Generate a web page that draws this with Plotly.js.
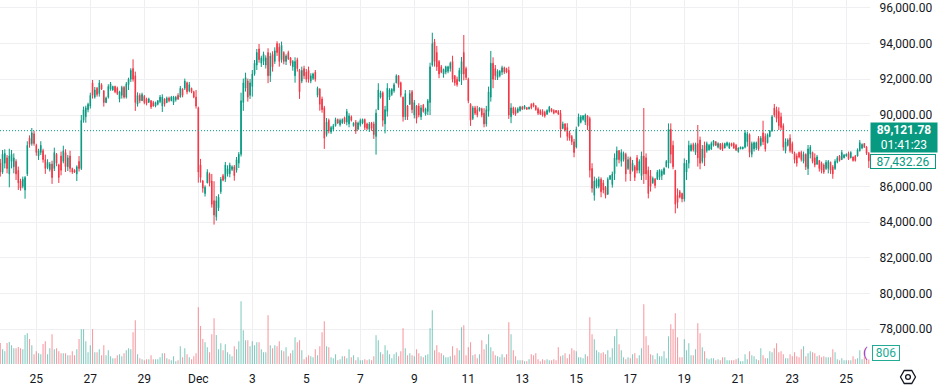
<!DOCTYPE html>
<html><head><meta charset="utf-8">
<script src="https://cdn.plot.ly/plotly-3.0.1.min.js"></script>
<style>html,body{margin:0;padding:0;background:#fff;}#chart{width:944px;height:389px;}</style>
</head><body><div id="chart"></div>
<script>
// ---- data (2h candles, BTC/USD) ----
const firstCandle = '2025-11-23T16:00:00Z';
const candleHours = 2;

const open = [
87300,86800,87300,87600,86700,87400,87100,87400,86900,86300,
86000,85800,86700,88700,88400,88950,88300,87700,87900,88000,
87500,87050,86950,87250,87000,87800,87200,87700,87400,87900,
87100,87700,87000,86900,86700,87400,87000,89700,89900,90300,
90500,91800,91000,91500,91200,91700,91350,90700,91000,91450,
91400,91600,91500,90900,91100,91550,91000,91700,92000,92600,
92200,90600,91100,90800,91050,90900,90700,90800,90700,90500,
90600,90750,90500,90900,90700,90950,90800,90700,90850,91100,
91000,91450,91500,91800,91350,91500,91300,91000,90400,87200,
86300,85600,86200,86700,86300,85200,84300,84800,85700,86600,
86400,86700,86700,86950,87100,86900,87300,87800,90700,91500,
91900,91100,91600,92300,92800,93700,92900,93000,92800,93500,
92200,93400,93000,94000,93800,93100,93500,93000,93500,93200,
92700,92200,93100,92500,91900,92600,92400,92500,91900,92050,
92400,91100,91450,90900,90400,88900,89700,89050,89200,89400,
89750,89450,89550,89850,89600,89500,89900,89400,89600,89200,
89450,89550,89750,89500,89200,89550,89500,88800,90300,91000,
91250,89500,90200,91000,91150,91350,91800,92200,91800,91000,
89900,90500,90600,91300,90000,90500,90500,89900,90550,90050,
90200,90700,92800,94100,93500,93000,92700,92300,92400,92450,
92600,93000,92200,92000,91900,92300,93500,92600,92000,90600,
89800,90400,90300,90250,90350,90100,89500,90200,91000,92900,
92600,92100,92200,92400,92650,92600,92500,89900,90400,90300,
90150,90250,90450,90350,90420,90330,90600,90650,90500,90350,
90250,90200,90150,90050,90200,90350,90250,90250,90200,90100,
89250,89500,89300,89000,88800,88500,88200,89400,89600,89750,
89600,89950,89800,87000,85500,86000,86000,86400,86200,85950,
85550,86400,86100,86700,87500,88000,87400,87500,87800,87000,
87600,86900,87100,87600,86900,86600,87700,87600,86900,86600,
86200,86400,86400,86500,86600,86700,87100,87300,89200,88300,
86900,85500,85700,85600,85300,86800,87300,88000,88350,87900,
88400,88600,87400,88300,88000,88050,88100,88300,88500,88200,
88400,88350,88150,88300,88150,88400,88400,88300,87950,88100,
88100,88200,88500,88900,87800,88100,88150,88700,88300,89000,
88800,88450,88800,89100,90400,90300,90200,89900,89400,88000,
88300,88700,88400,87850,87700,87900,87900,87400,87800,87000,
87800,87900,87600,87250,87450,87300,87200,87000,87000,87350,
87100,87000,87350,87700,87500,87600,87700,87850,87600,87650,
87700,87700,88000,88150,88400,88200,87850];

const high = [
87540,88040,88080,87760,88110,88040,87850,87520,87110,86430,
86550,86580,88530,88860,89270,89120,88390,88110,88530,88110,
87780,87520,87370,87440,88170,87870,87270,87950,88280,88080,
87760,88000,87050,86960,87180,87700,90000,90470,90520,90690,
91250,91960,91570,91570,91960,91780,91400,91030,91720,91850,
91640,91640,91590,91360,91640,91630,91850,92090,92620,93120,
92430,91270,91220,91250,91120,90970,90970,90840,90790,90750,
90840,91120,91160,90940,91030,91030,91070,91070,91070,91220,
91630,91500,92040,91870,91850,91530,91360,91400,90470,87540,
86360,86060,86960,86780,86700,86290,85460,85560,86530,86700,
87370,87180,87330,87180,87200,87650,87930,91250,92040,92370,
92040,92020,92520,93080,93700,93980,93320,93550,93340,93740,
93490,93570,93790,94130,94020,94110,93570,93400,93600,93250,
93080,93230,93210,92580,92710,92760,92580,92710,92340,92370,
92520,91590,91500,91030,90510,89830,89800,89390,89500,89850,
89800,89800,89810,89910,90340,90100,89980,89590,89720,89630,
89800,89800,89800,89570,89610,89610,89630,90320,91780,91360,
91330,90510,91780,91500,91500,91810,92280,92240,91870,91030,
91400,90560,91400,91400,90840,90560,90660,90560,90620,90410,
90900,92930,94610,94260,93870,93080,92800,92600,92760,92760,
92990,93320,92240,92150,92650,93250,94480,92710,92090,90660,
90510,90510,90510,90430,90410,90380,90510,91590,93590,93230,
92800,92560,92520,92760,92710,92650,92710,90660,90470,90430,
90430,90510,90510,90560,90430,90470,90660,90690,90560,90430,
90320,90320,90240,90320,90510,90380,90320,90280,90280,90280,
89630,89540,89540,89120,88880,88660,89350,90080,90000,90000,
90080,90000,89910,87300,86550,86450,86550,86510,86360,86020,
86510,86640,86830,87850,88230,88040,88080,87950,87890,87670,
87670,87480,87200,87760,87520,87950,90390,87850,87110,86920,
86550,86470,86920,86960,86960,87070,87480,89530,89530,88560,
86920,85890,85800,85650,87570,87480,88560,88410,88450,88450,
89440,88790,88320,88510,88510,88380,88510,88600,88540,88470,
88410,88450,88450,88510,88470,88450,88470,88380,88190,88230,
88230,89160,89070,88970,88510,88510,88510,88820,88820,89680,
88970,88970,89160,90000,90620,90470,90430,90130,89530,88690,
88690,88920,88510,87950,87850,87950,88000,87950,87850,88320,
88320,87950,87850,87760,87480,87390,87290,87480,87480,87390,
87200,87520,87700,87760,88040,87820,87850,87950,87970,87670,
87760,88130,88600,88410,88430,88260,87930];

const low = [
86550,86700,87010,86730,85950,87010,86730,86360,85800,85760,
85890,85310,86580,88170,88280,88280,87720,87480,87760,87330,
86700,86960,86830,86140,86860,87130,86190,86620,87290,86810,
86860,86790,86700,86750,86300,86830,86920,89570,89570,90150,
90360,90920,90920,91030,91030,91400,90470,90660,90920,91360,
91360,91220,91120,90710,90920,90920,90920,91400,91850,91870,
90230,90470,90660,90790,90600,90540,90690,90340,90470,90430,
90540,90660,90170,90470,90660,90710,90770,90560,90750,90840,
90990,90990,91400,91160,91270,91220,90940,90360,86210,86210,
85650,85430,86170,86000,84810,83860,84080,84620,85580,86290,
86250,86550,86510,86860,86320,86770,87030,87670,90230,91310,
90750,90900,91030,92200,92520,92930,92690,92800,92600,91780,
91850,92430,92860,93310,92710,92930,92840,92800,93080,92760,
92480,91810,92430,90900,91780,92020,91830,91810,91780,91960,
91870,90990,90240,90130,88100,88790,88970,88940,89090,89350,
89500,89350,89500,89500,89420,89310,89630,89350,88940,89160,
89350,89480,89160,89160,89050,89120,88660,87780,90280,90920,
89350,88970,89910,90840,91070,91250,91780,91530,90990,89630,
89720,89720,90560,90100,89810,89530,89870,89720,90130,89960,
90000,90000,92710,92710,92470,92060,92340,92090,92280,92340,
92430,91830,91640,91590,91870,91680,91940,91960,90660,89390,
89720,90000,89870,90190,89870,89310,89350,89910,90750,91500,
91960,91960,92110,92240,92300,92340,89780,89540,90000,89950,
90100,90190,90280,90320,90280,90320,90320,90430,90240,90000,
90000,89910,89850,90000,90130,90150,90040,90100,90000,88730,
89200,89070,88560,88560,88320,87630,88130,89350,89530,89680,
89440,89160,86500,85650,85200,85890,85890,85390,85610,85330,
85550,86360,85930,86360,87110,87290,87110,87390,86270,86920,
86300,86830,86300,86730,86730,86360,86140,86360,85330,85710,
86140,85890,86360,86360,86360,86640,87070,87010,87290,86960,
84490,84770,85330,85110,85150,86360,87010,87950,87950,87760,
87110,86960,87290,87140,87890,88000,88040,88230,88260,88130,
88040,87980,88130,88230,88100,88230,88100,87980,87890,88080,
88080,88130,88230,87630,87630,87950,88040,88000,88230,88320,
87950,88410,88750,89070,89870,89590,89160,89160,88000,87850,
88230,87890,87820,87290,87110,87570,87390,87290,86920,86640,
87570,87290,87070,87200,86830,86730,86700,86920,86730,86700,
86430,86920,87290,87390,87480,87570,87670,87480,87570,87390,
87390,87670,87950,88080,88150,87760,87030];

const close = [
86800,87800,87850,87000,87700,87800,87600,86700,86200,85900,
86400,86500,88300,88350,89000,88400,87900,88000,88300,87500,
87000,87350,87250,86500,87900,87300,86500,86900,88000,87100,
87600,87000,86800,86800,87100,87000,89700,90300,90400,90600,
91100,91100,91400,91150,91800,91450,90700,90950,91600,91750,
91600,91300,91200,91300,91550,91000,91750,92000,92500,92000,
90700,91100,90800,91150,90700,90650,90900,90450,90500,90700,
90800,91000,91000,90600,90950,90800,91000,91000,91000,90900,
91500,91100,91900,91300,91700,91300,91000,90500,86800,86500,
85900,85950,86800,86200,85000,84400,85200,85400,86400,86350,
87200,87000,87200,87100,86600,87500,87800,90800,91800,92100,
91000,91800,92300,92900,93500,93100,93200,93400,93200,92200,
93300,92700,93600,93500,93000,93900,93000,93300,93150,92900,
93000,93000,92600,91300,92500,92200,92000,92000,92200,92300,
92000,91500,90600,90300,88700,89600,89100,89300,89400,89750,
89550,89700,89750,89600,90200,89950,89700,89550,89100,89550,
89700,89750,89300,89250,89500,89250,88900,90100,91400,91250,
89700,90300,91500,91400,91450,91700,92200,91700,91100,89900,
91200,89900,91200,90300,90700,89800,90000,90400,90200,90350,
90800,92700,94000,93000,92700,92300,92400,92550,92700,92700,
92900,92000,91800,91700,92500,93000,92300,92100,90800,89700,
90400,90100,90000,90400,90000,89500,90300,91300,92900,92000,
92200,92450,92450,92650,92400,92400,90000,90400,90100,90050,
90350,90450,90320,90500,90320,90430,90400,90500,90300,90100,
90050,90000,89950,90250,90450,90200,90100,90150,90050,89200,
89500,89150,88800,88700,88500,87900,89200,89900,89900,89950,
90000,89400,86900,85900,86300,86350,86400,85700,85800,85500,
86400,86600,86700,87600,88000,87500,87900,87850,86700,87500,
86700,87300,86500,86900,87400,87700,86700,86700,85600,86000,
86450,86050,86800,86900,86850,87000,87400,89200,87800,87100,
85000,85100,85400,85300,87300,87300,88300,88300,88050,88350,
87600,87300,88100,87600,88400,88300,88400,88550,88300,88400,
88100,88100,88400,88450,88400,88280,88150,88050,88150,88200,
88200,89000,88950,87900,88400,88450,88450,88100,88700,88500,
88100,88900,89100,89900,90000,89800,89400,89300,88200,88500,
88600,88000,87900,87500,87300,87650,87500,87800,87100,88100,
88200,87400,87200,87650,87000,86900,86800,87350,87400,86900,
86700,87400,87600,87450,87900,87750,87800,87550,87900,87450,
87450,88050,88450,88350,88200,87850,87432.26];

const volume = [
3780,2640,2280,3780,3960,3360,2820,2820,3060,2820,
2640,5220,5520,4500,3360,1740,2280,1920,1740,3600,
4080,1740,2820,5340,2640,2820,2280,1920,1920,1920,
1560,1560,2280,1560,2640,4500,6240,6240,4080,2100,
3360,6240,2100,2100,2640,1560,3360,1560,2460,1380,
1020,1020,1560,1740,1380,1920,2460,2820,2640,5700,
7860,1740,1020,840,660,840,840,1560,840,840,
840,1200,1920,1920,1020,840,660,1380,480,660,
3180,1200,2820,1740,1200,840,1380,1920,10200,6840,
4500,3900,3000,2100,5340,8220,5220,2640,3720,2460,
3540,2100,1740,1380,3180,2640,4080,11280,6060,4260,
4260,3180,4080,3360,3900,3900,2640,2100,2100,8760,
3360,2820,3360,3180,4080,2460,2280,3000,1380,1920,
2460,4800,3900,4260,2460,840,1200,1560,1380,1200,
2640,1560,3180,5700,7680,3180,3000,1200,1020,1740,
660,840,1380,1380,1020,2640,1200,1560,660,1200,
660,660,840,660,840,660,1380,5160,4260,2100,
1740,3360,2460,1740,1020,1740,2100,1380,2280,6420,
2820,1560,1920,1560,1380,2640,1920,1380,1200,1560,
1740,6420,9660,2460,3360,2100,1920,1560,1200,1200,
1380,3180,1560,2820,2460,6600,6960,1560,3000,3900,
1560,1740,1020,1740,4260,2640,3540,5340,3000,2280,
1560,1380,1200,1740,1200,1740,7500,5340,2460,1380,
660,660,660,480,480,840,1740,1560,1920,840,
480,840,660,840,660,660,840,660,3000,1380,
1560,1920,1020,1740,2820,2460,2280,1200,1200,1020,
1740,1380,8400,5340,4440,2460,2100,1920,2100,1740,
2460,1200,2820,4980,6240,3540,2460,1200,840,1200,
1020,1740,1920,1020,1560,2820,10740,4980,3360,1740,
1560,840,1920,1380,1380,2280,1020,4980,7140,6240,
9120,4800,1200,1200,4440,2460,3720,1560,1560,2640,
7320,5520,3000,2280,1020,840,1020,1020,660,840,
660,1200,1200,660,660,660,660,840,1020,480,
480,1740,840,2280,1560,1380,840,660,2820,1560,
1020,1020,2280,2100,2820,3720,2100,2280,1740,1020,
1020,1740,1380,2100,1380,1200,2640,3180,1380,1920,
2280,2100,1920,1380,1560,1200,1380,1200,1200,1200,
2640,2100,840,660,1020,660,660,660,660,1380,
840,1020,2460,840,1200,840,806];

const lastPrice = 89121.78;
const countdown = '01:41:23';
const secondPrice = 87432.26;

const tickDates = ['2025-11-25','2025-11-27','2025-11-29','2025-12-01','2025-12-03','2025-12-05','2025-12-07','2025-12-09','2025-12-11','2025-12-13','2025-12-15','2025-12-17','2025-12-19','2025-12-21','2025-12-23','2025-12-25'];
const tickLabels = ['25','27','29','Dec','3','5','7','9','11','13','15','17','19','21','23','25'];
// price-scale levels; the 88,000 label sits under the price boxes in the reference
const priceTicks = [78000, 80000, 82000, 84000, 86000, 88000, 90000, 92000, 94000, 96000];
const priceTickText = ['78,000.00','80,000.00','82,000.00','84,000.00','86,000.00','','90,000.00','92,000.00','94,000.00','96,000.00'];

// ---- chart ----
const t0 = Date.parse(firstCandle);
const times = open.map((_, i) => new Date(t0 + i * candleHours * 3600000).toISOString().slice(0, 16).replace('T', ' '));
const up = '#089981', down = '#F23645';
const volColors = close.map((c, i) => c >= open[i] ? 'rgba(8,153,129,0.5)' : 'rgba(242,54,69,0.5)');
const fmt = v => v.toLocaleString('en-US', {minimumFractionDigits: 2, maximumFractionDigits: 2});

const volTrace = {
  type: 'bar', x: times, y: volume, yaxis: 'y2',
  marker: {color: volColors, line: {width: 0}},
  width: 3.4e6, hoverinfo: 'skip'
};
const candleTrace = {
  type: 'candlestick', x: times, open: open, high: high, low: low, close: close,
  increasing: {line: {color: up, width: 1}, fillcolor: up},
  decreasing: {line: {color: down, width: 1}, fillcolor: down},
  whiskerwidth: 0, hoverinfo: 'skip'
};

const grid = '#efeff1';
const layout = {
  width: 944, height: 389,
  margin: {l: 0, r: 74, t: 0, b: 25},
  paper_bgcolor: '#ffffff', plot_bgcolor: '#ffffff',
  showlegend: false,
  boxgap: 0.6,
  font: {family: 'Roboto, "Liberation Sans", sans-serif', size: 12, color: '#131722'},
  xaxis: {
    type: 'date', range: ['2025-11-23 15:44', '2025-12-25 21:04'],
    tickvals: tickDates, ticktext: tickLabels,
    showgrid: true, gridcolor: grid, gridwidth: 1,
    ticks: 'outside', ticklen: 4, tickcolor: 'rgba(0,0,0,0)',
    showline: false, zeroline: false,
    rangeslider: {visible: false}, fixedrange: true
  },
  yaxis: {
    side: 'right', range: [76051, 96442],
    tickmode: 'array', tickvals: priceTicks, ticktext: priceTickText,
    showgrid: true, gridcolor: grid, gridwidth: 1,
    ticks: 'outside', ticklen: 6, tickcolor: 'rgba(0,0,0,0)',
    showline: false, zeroline: false, fixedrange: true
  },
  yaxis2: {overlaying: 'y', range: [0, 65520], visible: false, fixedrange: true},
  shapes: [
    {type: 'line', xref: 'paper', x0: 0, x1: 1, yref: 'y', y0: lastPrice, y1: lastPrice,
     line: {color: up, width: 1, dash: '1px,2px'}},
    {type: 'path', xref: 'paper', yref: 'paper', xsizemode: 'pixel', ysizemode: 'pixel',
     xanchor: 1, yanchor: 0,
     path: 'M 45.5 -13 L 41.75 -6.5 L 34.25 -6.5 L 30.5 -13 L 34.25 -19.5 L 41.75 -19.5 Z',
     line: {color: '#131722', width: 1.3}},
    {type: 'circle', xref: 'paper', yref: 'paper', xsizemode: 'pixel', ysizemode: 'pixel',
     xanchor: 1, yanchor: 0, x0: 35.6, x1: 40.4, y0: -15.4, y1: -10.6,
     line: {color: '#131722', width: 1.3}}
  ],
  annotations: [
    {xref: 'paper', x: 1, xanchor: 'left', yref: 'y', y: lastPrice, yanchor: 'top', yshift: 9,
     text: '<b>' + fmt(lastPrice) + '</b><br>' + countdown, showarrow: false,
     bgcolor: up, font: {color: '#ffffff', size: 12}, width: 64, height: 27, borderpad: 1, align: 'center'},
    {xref: 'paper', x: 1, xanchor: 'left', yref: 'y', y: secondPrice, yanchor: 'middle', yshift: -1,
     text: fmt(secondPrice), showarrow: false, bgcolor: '#ffffff', bordercolor: up, borderwidth: 1,
     font: {color: up, size: 12}, width: 64, height: 13, borderpad: 0, align: 'center'},
    {xref: 'paper', x: 1, xanchor: 'left', xshift: 2, yref: 'paper', y: 0.029, yanchor: 'middle',
     text: String(volume[volume.length - 1]), showarrow: false, bgcolor: '#ffffff', bordercolor: '#22ab94', borderwidth: 1,
     font: {color: '#22ab94', size: 12}, width: 26, height: 14, borderpad: 0, align: 'center'},
    {xref: 'paper', x: 1, xanchor: 'right', yref: 'paper', y: 0.032, yanchor: 'middle',
     text: '(', showarrow: false, font: {color: '#9c27b0', size: 13}}
  ]
};

Plotly.newPlot('chart', [volTrace, candleTrace], layout, {staticPlot: true, displayModeBar: false});
</script>
</body></html>
